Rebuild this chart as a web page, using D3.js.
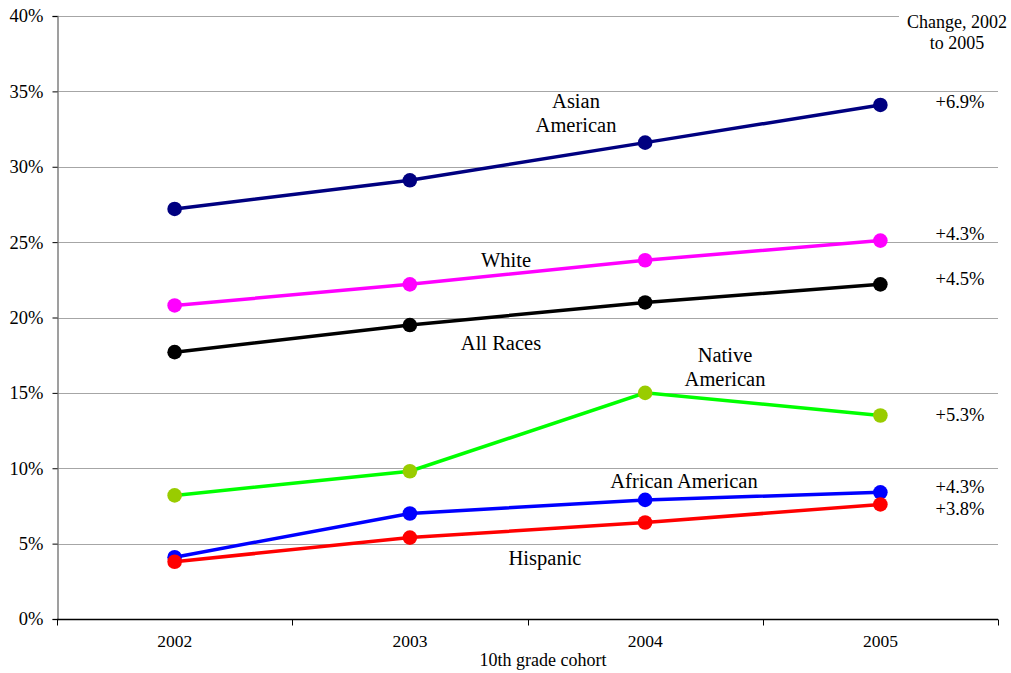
<!DOCTYPE html>
<html>
<head>
<meta charset="utf-8">
<script src="https://cdn.jsdelivr.net/npm/d3@7"></script>
<style>
  html, body { margin: 0; padding: 0; background: #fff; }
  svg { display: block; }
  svg text { font-family: "Liberation Serif", "Times New Roman", serif; fill: #000; }
</style>
</head>
<body>
<svg id="chart" width="1011" height="673"></svg>
<script>
// Cohorts along the x axis
const cohorts = ["2002", "2003", "2004", "2005"];

// Share of each group, in percent, per cohort
const asianAmerican   = [27.2, 29.1, 31.6, 34.1];
const white           = [20.8, 22.2, 23.8, 25.1];
const allRaces        = [17.7, 19.5, 21.0, 22.2];
const nativeAmerican  = [8.2, 9.8, 15.0, 13.5];
const africanAmerican = [4.1, 7.0, 7.9, 8.4];
const hispanic        = [3.8, 5.4, 6.4, 7.6];

// Change from 2002 to 2005, as printed beside each line
const changeLabels = ["+6.9%", "+4.3%", "+4.5%", "+5.3%", "+4.3%", "+3.8%"];

const yTicks = [0, 5, 10, 15, 20, 25, 30, 35, 40];

const series = [
  { name: ["Asian", "American"], values: asianAmerican, line: "#000080", dot: "#000080",
    label: { x: 576, y: 108, lh: 24 }, change: { label: changeLabels[0], y: 108 } },
  { name: ["White"], values: white, line: "#FF00FF", dot: "#FF00FF",
    label: { x: 506, y: 267, lh: 0 }, change: { label: changeLabels[1], y: 240 } },
  { name: ["All Races"], values: allRaces, line: "#000000", dot: "#000000",
    label: { x: 501, y: 350, lh: 0 }, change: { label: changeLabels[2], y: 285 } },
  { name: ["Native", "American"], values: nativeAmerican, line: "#00FF00", dot: "#99CC00",
    label: { x: 725, y: 362, lh: 24 }, change: { label: changeLabels[3], y: 421 } },
  { name: ["African American"], values: africanAmerican, line: "#0000FF", dot: "#0000FF",
    label: { x: 684, y: 488, lh: 0 }, change: { label: changeLabels[4], y: 493 } },
  { name: ["Hispanic"], values: hispanic, line: "#FF0000", dot: "#FF0000",
    label: { x: 545, y: 565, lh: 0 }, change: { label: changeLabels[5], y: 515 } }
];

const svg = d3.select("#chart");
const plotLeft = 57, plotRight = 998, plotTop = 16, plotBottom = 619;

const x = d3.scaleBand().domain(cohorts).range([plotLeft, plotRight]).paddingInner(0).paddingOuter(0);
const y = d3.scaleLinear().domain([0, 40]).range([plotBottom, plotTop]);

// Horizontal gridlines
svg.append("g")
  .selectAll("line")
  .data(yTicks.filter(d => d > 0))
  .join("line")
  .attr("x1", plotLeft).attr("x2", plotRight)
  .attr("y1", d => Math.round(y(d)) + 0.5).attr("y2", d => Math.round(y(d)) + 0.5)
  .attr("stroke", "#a6a6a6").attr("stroke-width", 1);

// Y axis
const yAxis = svg.append("g")
  .attr("transform", `translate(${plotLeft + 0.5},0)`)
  .call(d3.axisLeft(y).tickValues(yTicks).tickFormat(d => d + "%").tickSize(5).tickPadding(9));
yAxis.select(".domain").attr("stroke", "#808080").attr("stroke-width", 1.5);
yAxis.selectAll(".tick line").attr("stroke", "#000");
yAxis.selectAll(".tick text").attr("font-size", 18.5);

// X axis: ticks fall between cohorts
const xAxis = svg.append("g")
  .attr("transform", `translate(0,${plotBottom + 0.5})`);
xAxis.append("line")
  .attr("x1", plotLeft).attr("x2", plotRight).attr("y1", 0).attr("y2", 0)
  .attr("stroke", "#000").attr("stroke-width", 1.5);
const boundaries = cohorts.map(c => x(c)).concat([x(cohorts[cohorts.length - 1]) + x.bandwidth()]);
xAxis.selectAll("line.tk")
  .data(boundaries)
  .join("line").attr("class", "tk")
  .attr("x1", d => Math.round(d) + 0.5).attr("x2", d => Math.round(d) + 0.5)
  .attr("y1", 0).attr("y2", 6)
  .attr("stroke", "#000");
xAxis.selectAll("text")
  .data(cohorts)
  .join("text")
  .attr("x", d => x(d) + x.bandwidth() / 2)
  .attr("y", 27.5)
  .attr("text-anchor", "middle")
  .attr("font-size", 17.5)
  .text(d => d);

svg.append("text")
  .attr("x", 543)
  .attr("y", 666)
  .attr("text-anchor", "middle")
  .attr("font-size", 18)
  .text("10th grade cohort");

// Lines and markers
const cx = d => x(d) + x.bandwidth() / 2;
const lineGen = d3.line().x((v, i) => cx(cohorts[i])).y(v => y(v));

const g = svg.append("g");
series.forEach(s => {
  g.append("path")
    .attr("d", lineGen(s.values))
    .attr("fill", "none")
    .attr("stroke", s.line)
    .attr("stroke-width", 3.5);
});
series.forEach(s => {
  g.selectAll(null)
    .data(s.values)
    .join("circle")
    .attr("cx", (v, i) => cx(cohorts[i]))
    .attr("cy", v => y(v))
    .attr("r", 7.3)
    .attr("fill", s.dot);
});

// Series names
series.forEach(s => {
  s.name.forEach((t, i) => {
    svg.append("text")
      .attr("x", s.label.x)
      .attr("y", s.label.y + i * s.label.lh)
      .attr("text-anchor", "middle")
      .attr("font-size", 20.5)
      .text(t);
  });
});

// Change column
svg.append("rect").attr("x", 899).attr("y", 4).attr("width", 112).attr("height", 50).attr("fill", "#fff");
svg.append("text").attr("x", 957).attr("y", 28).attr("text-anchor", "middle").attr("font-size", 18).text("Change, 2002");
svg.append("text").attr("x", 957).attr("y", 49).attr("text-anchor", "middle").attr("font-size", 18).text("to 2005");
series.forEach(s => {
  svg.append("text")
    .attr("x", 960)
    .attr("y", s.change.y)
    .attr("text-anchor", "middle")
    .attr("font-size", 18.5)
    .text(s.change.label);
});
</script>
</body>
</html>
